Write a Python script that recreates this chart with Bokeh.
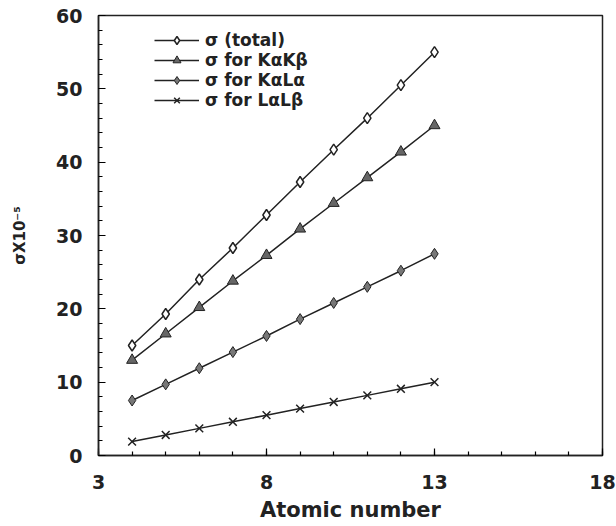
from bokeh.plotting import figure
from bokeh.models import Legend, LegendItem, FixedTicker
from bokeh.embed import file_html
from bokeh.resources import INLINE

atomic_number = [4, 5, 6, 7, 8, 9, 10, 11, 12, 13]
sigma_total = [15.0, 19.3, 24.0, 28.3, 32.8, 37.3, 41.7, 46.0, 50.5, 55.0]
sigma_kakb = [13.0, 16.6, 20.2, 23.8, 27.3, 30.9, 34.4, 37.9, 41.4, 45.0]
sigma_kala = [7.5, 9.7, 11.9, 14.1, 16.3, 18.6, 20.8, 23.0, 25.2, 27.5]
sigma_lalb = [1.9, 2.8, 3.7, 4.6, 5.5, 6.4, 7.3, 8.2, 9.1, 10.0]
labels = ["σ (total)", "σ for KαKβ", "σ for KαLα", "σ for LαLβ"]
x_ticks = [3, 8, 13, 18]
y_ticks = [0, 10, 20, 30, 40, 50, 60]

FONT = "DejaVu Sans"

p = figure(width=616, height=526, output_backend="svg", toolbar_location=None,
           x_range=(3, 18), y_range=(0, 60),
           min_border_left=98, min_border_right=14, min_border_top=15, min_border_bottom=71)
p.background_fill_color = "white"
p.border_fill_color = "white"
p.grid.visible = False
p.outline_line_color = "#222222"
p.outline_line_width = 1.5

for ax in (p.xaxis[0], p.yaxis[0]):
    ax.axis_line_color = "#222222"
    ax.axis_line_width = 1.5
    ax.major_tick_in = 7
    ax.major_tick_out = 0
    ax.minor_tick_in = 4
    ax.minor_tick_out = 0
    ax.major_tick_line_width = 1.2
    ax.minor_tick_line_width = 1.2
    ax.major_label_text_font = FONT
    ax.major_label_text_font_style = "bold"
    ax.major_label_text_font_size = "19px"
    ax.major_label_text_color = "#222222"
    ax.axis_label_text_font = FONT
    ax.axis_label_text_font_style = "bold"
    ax.axis_label_text_color = "#222222"

p.xaxis.ticker = FixedTicker(ticks=x_ticks, minor_ticks=list(range(3, 19)))
p.yaxis.ticker = FixedTicker(ticks=y_ticks, minor_ticks=list(range(0, 61, 2)))
p.xaxis.major_label_standoff = 19
p.yaxis.major_label_standoff = 16
p.xaxis.axis_label = "Atomic number"
p.xaxis.axis_label_text_font_size = "21px"
p.xaxis.axis_label_standoff = 6
p.yaxis.axis_label = "σX10⁻⁵"
p.yaxis.axis_label_text_font_size = "15px"
p.yaxis.axis_label_standoff = 24

lc = "#222222"
l1 = p.line(atomic_number, sigma_total, line_color=lc, line_width=1.5)
m1 = p.scatter(atomic_number, sigma_total, marker="diamond", size=11, fill_color="white",
               line_color=lc, line_width=1.5)
l2 = p.line(atomic_number, sigma_kakb, line_color=lc, line_width=1.5)
m2 = p.scatter(atomic_number, sigma_kakb, marker="triangle", size=11, fill_color="#666666",
               line_color=lc, line_width=1)
l3 = p.line(atomic_number, sigma_kala, line_color=lc, line_width=1.5)
m3 = p.scatter(atomic_number, sigma_kala, marker="diamond", size=11, fill_color="#777777",
               line_color=lc, line_width=1)
l4 = p.line(atomic_number, sigma_lalb, line_color=lc, line_width=1.5)
m4 = p.scatter(atomic_number, sigma_lalb, marker="x", size=11, line_color=lc, line_width=1.5)

legend = Legend(items=[
    LegendItem(label=labels[0], renderers=[l1, m1]),
    LegendItem(label=labels[1], renderers=[l2, m2]),
    LegendItem(label=labels[2], renderers=[l3, m3]),
    LegendItem(label=labels[3], renderers=[l4, m4]),
], location=(56, 345))
legend.border_line_color = None
legend.background_fill_alpha = 0
legend.padding = 0
legend.margin = 0
legend.spacing = 0
legend.glyph_width = 45
legend.glyph_height = 20
legend.label_height = 20
legend.label_standoff = 6
legend.label_text_font = FONT
legend.label_text_font_style = "bold"
legend.label_text_font_size = "17px"
legend.label_text_color = "#222222"
p.add_layout(legend, "center")

open("out.html", "w").write(file_html(p, INLINE))
